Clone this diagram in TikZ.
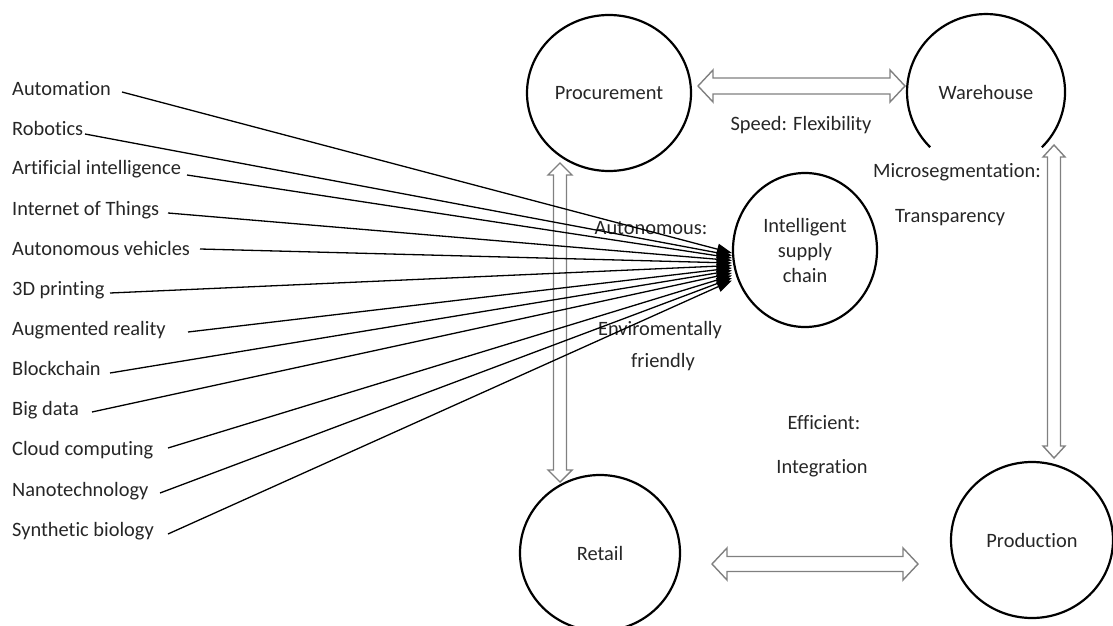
\documentclass[tikz,border=0pt]{standalone}
\usepackage{fontspec}
\setmainfont{Carlito}[Ligatures=NoCommon]
\usetikzlibrary{shapes.geometric,arrows.meta,calc}
\definecolor{txt}{HTML}{262626}
\definecolor{arrgray}{HTML}{808080}
\newcommand\hdarrow[5]{%
  \draw[hollow] (#1) -- ($(#1)!#5!(#2)!#4!90:(#2)$) -- ($(#1)!#5!(#2)!#3!90:(#2)$)
   -- ($(#2)!#5!(#1)!#3!-90:(#1)$) -- ($(#2)!#5!(#1)!#4!-90:(#1)$) -- (#2)
   -- ($(#2)!#5!(#1)!#4!90:(#1)$) -- ($(#2)!#5!(#1)!#3!90:(#1)$)
   -- ($(#1)!#5!(#2)!#3!-90:(#2)$) -- ($(#1)!#5!(#2)!#4!-90:(#2)$) -- cycle;}
\begin{document}
\begin{tikzpicture}[x=1pt,y=-1pt,
  every node/.style={font=\fontsize{20.4}{25}\selectfont, text=txt},
  lab/.style={anchor=base west, inner sep=0},
  stage/.style={ellipse, draw=black, line width=2.2pt, inner sep=0},
  feed/.style={line width=1.3pt, draw=black, -{Triangle[length=15pt,width=11pt]}},
  hollow/.style={draw=arrgray, line width=1.4pt, line join=miter},
  txtlab/.style={inner sep=0}]
\useasboundingbox (0,0) rectangle (1113,626);

% stages
\node[stage, minimum width=164pt, minimum height=156pt] (proc) at (609,93) {Procurement};
\node[ellipse, inner sep=0, minimum width=158pt, minimum height=156pt] (wh) at (986,92) {Warehouse};
\draw[line width=2.2pt] ($(wh.center)+(55.9,55.2)$) arc[start angle=-45,end angle=225,x radius=79pt,y radius=78pt];
\node[stage, minimum width=144pt, minimum height=154pt, align=center] (isc) at (805,250) {Intelligent\\supply\\chain};
\node[stage, minimum width=160pt, minimum height=156pt] (ret) at (600,553) {Retail};
\node[stage, minimum width=162pt, minimum height=156pt] (prod) at (1032,540) {Production};

% texts
\node[txtlab] (speed) at (801,125) {Speed: Flexibility};
\node[txtlab] (micro) at (957,172) {Microsegmentation:};
\node[txtlab, anchor=west] (transp) at (895,218) {Transparency};
\node[txtlab] (auton) at (651,228) {Autonomous:};
\node[txtlab] (envi) at (660,330) {Enviromentally};
\node[txtlab] (friend) at (663,362) {friendly};
\node[txtlab] (effic) at (824,423) {Efficient:};
\node[txtlab] (integ) at (822,468) {Integration};

% hollow double arrows
\coordinate (pw1) at (698,86);  \coordinate (pw2) at (905,86);
\coordinate (rp1) at (712,564); \coordinate (rp2) at (918,564);
\coordinate (pr1) at (560,163); \coordinate (pr2) at (560,482);
\coordinate (wp1) at (1054,145); \coordinate (wp2) at (1054,458);
\hdarrow{pw1}{pw2}{8pt}{16pt}{15pt}
\hdarrow{rp1}{rp2}{7.5pt}{16pt}{15pt}
\hdarrow{pr1}{pr2}{6.5pt}{12pt}{12pt}
\hdarrow{wp1}{wp2}{6.5pt}{11pt}{12pt}

% technologies
\foreach \i/\t/\y/\sx/\sy in {
  1/Automation/95/122/92,
  2/Robotics/135/85/134,
  3/Artificial intelligence/174/187/175,
  4/Internet of Things/215/168/213,
  5/Autonomous vehicles/255/200/249,
  6/3D printing/295/110/293,
  7/Augmented reality/335/188/332,
  8/Blockchain/375/110/373,
  9/Big data/415/92/412,
  10/Cloud computing/455/168/448,
  11/Nanotechnology/496/160/493,
  12/Synthetic biology/536/168/534}{
  \node[lab] (l\i) at (12,\y) {\t};
  \coordinate (s\i) at (\sx,\sy);
  \draw[feed] (s\i) -- ($(isc.west)+(0,0.5+2.5*\i)$);
}
\end{tikzpicture}
\end{document}
